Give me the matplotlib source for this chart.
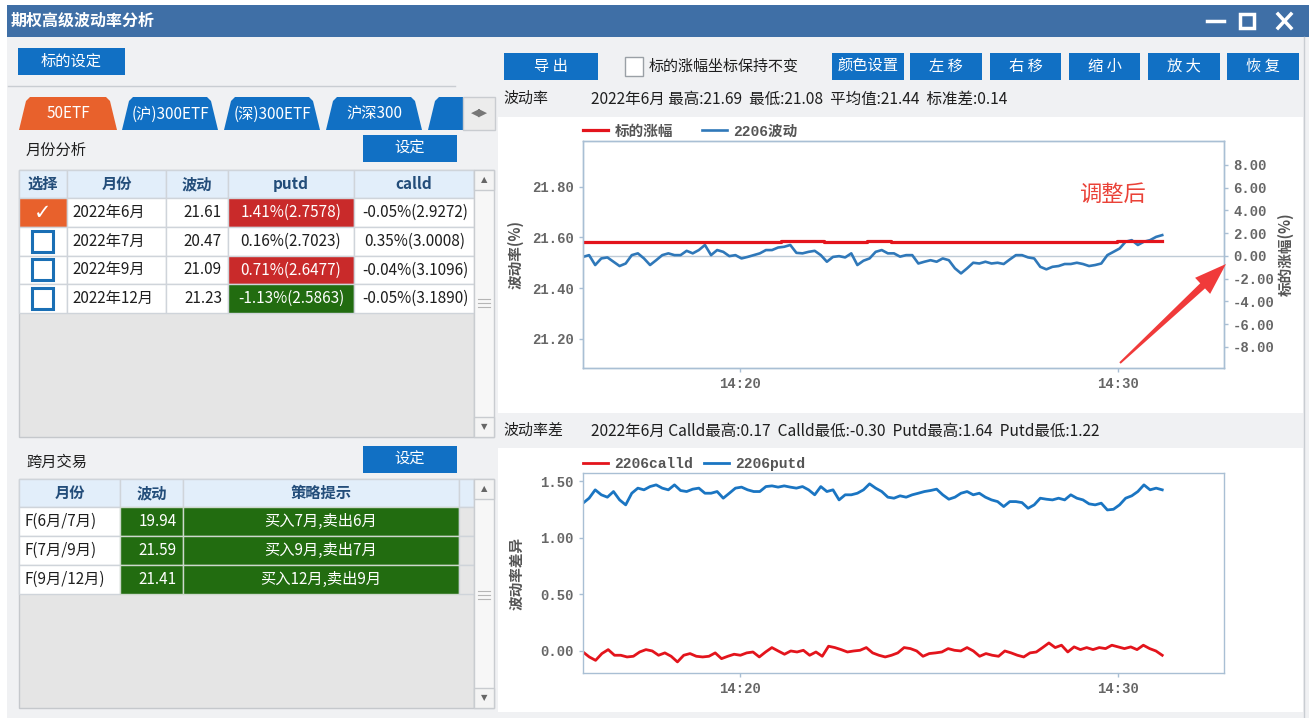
import matplotlib.pyplot as plt
from matplotlib.patches import Rectangle, Polygon
from matplotlib.ticker import FuncFormatter
import numpy as np

plt.rcParams['font.family'] = ['Noto Sans CJK SC', 'DejaVu Sans']

# ---------------- data ----------------
tab_names = ['50ETF', '(沪)300ETF', '(深)300ETF', '沪深300']

months = ['2022年6月', '2022年7月', '2022年9月', '2022年12月']
month_vol = [21.61, 20.47, 21.09, 21.23]
putd_pct = [1.41, 0.16, 0.71, -1.13]
putd_vega = [2.7578, 2.7023, 2.6477, 2.5863]
calld_pct = [-0.05, 0.35, -0.04, -0.05]
calld_vega = [2.9272, 3.0008, 3.1096, 3.1890]
selected = [True, False, False, False]

spreads = ['F(6月/7月)', 'F(7月/9月)', 'F(9月/12月)']
spread_vol = [19.94, 21.59, 21.41]
spread_tips = ['买入7月,卖出6月', '买入9月,卖出7月', '买入12月,卖出9月']

cur_month = '2022年6月'
vol_high, vol_low, vol_mean, vol_std = 21.69, 21.08, 21.44, 0.14
calld_high, calld_low, putd_high, putd_low = 0.17, -0.30, 1.64, 1.22

t_first, t_last = '14:15:51', '14:31:10'

# 2206 implied vol (left axis, %)
vol_2206 = [21.523, 21.530, 21.491, 21.517, 21.521, 21.504, 21.487, 21.497, 21.530, 21.537,
            21.517, 21.491, 21.510, 21.530, 21.537, 21.530, 21.530, 21.547, 21.537, 21.550,
            21.570, 21.530, 21.550, 21.543, 21.526, 21.530, 21.517, 21.523, 21.530, 21.537,
            21.550, 21.550, 21.560, 21.563, 21.570, 21.539, 21.537, 21.543, 21.547, 21.530,
            21.504, 21.523, 21.526, 21.521, 21.537, 21.491, 21.508, 21.517, 21.543, 21.550,
            21.537, 21.537, 21.524, 21.530, 21.530, 21.497, 21.504, 21.510, 21.504, 21.517,
            21.510, 21.478, 21.458, 21.478, 21.500, 21.497, 21.504, 21.497, 21.500, 21.495,
            21.513, 21.530, 21.530, 21.521, 21.517, 21.484, 21.474, 21.484, 21.487, 21.495,
            21.495, 21.500, 21.495, 21.487, 21.491, 21.497, 21.530, 21.543, 21.556, 21.583,
            21.589, 21.570, 21.583, 21.589, 21.602, 21.609]

# underlying change (right axis, %)
underlying_chg = [1.20, 1.20, 1.20, 1.20, 1.20, 1.20, 1.20, 1.20, 1.20, 1.20,
                  1.20, 1.20, 1.20, 1.20, 1.20, 1.20, 1.20, 1.20, 1.20, 1.20,
                  1.20, 1.20, 1.20, 1.20, 1.20, 1.20, 1.20, 1.20, 1.20, 1.20,
                  1.20, 1.20, 1.20, 1.32, 1.32, 1.32, 1.32, 1.32, 1.32, 1.32,
                  1.20, 1.20, 1.20, 1.20, 1.20, 1.20, 1.20, 1.32, 1.32, 1.32,
                  1.32, 1.20, 1.20, 1.20, 1.20, 1.20, 1.20, 1.20, 1.20, 1.20,
                  1.20, 1.20, 1.20, 1.20, 1.20, 1.20, 1.20, 1.26, 1.20, 1.26,
                  1.20, 1.26, 1.20, 1.25, 1.20, 1.26, 1.20, 1.20, 1.20, 1.20,
                  1.20, 1.20, 1.20, 1.20, 1.20, 1.20, 1.20, 1.20, 1.30, 1.30,
                  1.30, 1.32, 1.30, 1.30, 1.28, 1.30]

# 2206 putd / calld vol spread
putd_2206 = [1.308, 1.352, 1.426, 1.382, 1.361, 1.411, 1.337, 1.293, 1.396, 1.441,
             1.426, 1.455, 1.470, 1.441, 1.426, 1.470, 1.420, 1.411, 1.432, 1.441,
             1.396, 1.396, 1.411, 1.352, 1.396, 1.441, 1.450, 1.426, 1.411, 1.411,
             1.455, 1.461, 1.450, 1.461, 1.450, 1.441, 1.455, 1.426, 1.382, 1.455,
             1.411, 1.426, 1.337, 1.382, 1.382, 1.396, 1.426, 1.479, 1.441, 1.411,
             1.361, 1.352, 1.373, 1.361, 1.382, 1.396, 1.411, 1.420, 1.432, 1.382,
             1.343, 1.361, 1.396, 1.411, 1.382, 1.396, 1.361, 1.337, 1.322, 1.278,
             1.322, 1.322, 1.313, 1.263, 1.293, 1.352, 1.343, 1.337, 1.352, 1.337,
             1.382, 1.352, 1.337, 1.302, 1.293, 1.308, 1.248, 1.254, 1.293, 1.352,
             1.373, 1.411, 1.470, 1.426, 1.441, 1.426]

calld_2206 = [-0.009, -0.053, -0.083, -0.023, 0.012, -0.038, -0.038, -0.053, -0.047, -0.009,
              0.012, 0.000, -0.038, -0.017, -0.047, -0.097, -0.038, -0.023, -0.047, -0.053,
              -0.047, -0.017, -0.068, -0.047, -0.029, -0.038, -0.017, -0.009, -0.053, -0.009,
              0.030, 0.000, -0.029, 0.000, -0.009, 0.006, -0.038, -0.009, -0.047, 0.042,
              0.030, 0.012, -0.009, 0.000, 0.006, 0.030, -0.017, -0.038, -0.053, -0.038,
              -0.017, 0.030, 0.021, 0.000, -0.047, -0.023, -0.017, -0.009, 0.021, 0.006,
              0.000, 0.030, 0.000, -0.047, -0.023, -0.038, -0.047, 0.000, -0.017, -0.038,
              -0.053, -0.017, -0.009, 0.030, 0.071, 0.030, 0.051, -0.009, 0.036, 0.012,
              0.030, 0.012, 0.030, 0.021, 0.051, 0.036, 0.021, 0.036, 0.012, 0.051,
              0.021, 0.000, -0.038]

# ---------------- layout helpers ----------------
W, H = 1309, 718
BTN = '#1170c4'
TITLE = '#3f6fa6'
BG = '#f0f1f3'
GRID = '#cfd4da'
HEAD_BG = '#e2eefa'
HEAD_TXT = '#234d7a'
EMPTY = '#e5e5e5'
RED_CELL = '#c92a2a'
GREEN_CELL = '#226c10'
ORANGE = '#e8612c'
SPINE = '#a9bfd4'
TICKTXT = '#666666'
MONO = ['Liberation Mono', 'DejaVu Sans Mono']
FS = 11  # body text size

fig = plt.figure(figsize=(W / 100, H / 100), dpi=100, facecolor='white')
ui = fig.add_axes([0, 0, 1, 1], zorder=-5)
ui.set_xlim(0, W)
ui.set_ylim(H, 0)
ui.axis('off')


def box(x0, y0, x1, y1, fc, ec='none', lw=1):
    ui.add_patch(Rectangle((x0, y0), x1 - x0, y1 - y0, facecolor=fc, edgecolor=ec, linewidth=lw))


def txt(x, y, s, size=FS, color='#1e1e1e', ha='left', **kw):
    ui.text(x, y, s, fontsize=size, color=color, ha=ha, va='center', **kw)


def button(x0, y0, x1, y1, s):
    box(x0, y0, x1, y1, BTN)
    txt((x0 + x1) / 2, (y0 + y1) / 2, s, color='white', ha='center', size=11)


def scrollbar(x0, y0, x1, y1, grip_y):
    box(x0, y0, x1, y1, '#f7f7f7', ec='#c9ccd0')
    box(x0, y0, x1, y0 + 20, '#f4f4f4', ec='#c9ccd0')
    box(x0, y1 - 20, x1, y1, '#f4f4f4', ec='#c9ccd0')
    txt((x0 + x1) / 2, y0 + 10, '▲', size=6, color='#666', ha='center', family='DejaVu Sans')
    txt((x0 + x1) / 2, y1 - 10, '▼', size=6, color='#666', ha='center', family='DejaVu Sans')
    for dy in (-4, 0, 4):
        ui.plot([x0 + 4, x1 - 4], [grip_y + dy, grip_y + dy], color='#b5b5b5', lw=0.8)


def px_axes(x0, y0, x1, y1):
    return fig.add_axes([x0 / W, 1 - y1 / H, (x1 - x0) / W, (y1 - y0) / H])


# ---------------- window frame ----------------
box(7, 5, W, 37, TITLE)
txt(11, 21, '期权高级波动率分析', size=11.5, color='white', fontweight='bold')
ui.plot([1207, 1224], [21, 21], color='white', lw=2.5)
box(1240, 14, 1254, 28, 'none', ec='white', lw=2.5)
ui.plot([1278, 1291], [14, 28], color='white', lw=2.5)
ui.plot([1278, 1291], [28, 14], color='white', lw=2.5)
box(7, 37, W, H, BG)

# ---------------- left panel ----------------
button(18, 48, 125, 75, '标的设定')
ui.plot([8, 455], [86, 86], color='#c9cdd2', lw=1)

tab_x = [(19, 117), (122, 218), (224, 320), (326, 422)]
for k, ((a, b), name) in enumerate(zip(tab_x, tab_names)):
    poly = [(a, 130), (a + 7, 101), (a + 11, 97), (b - 11, 97), (b - 7, 101), (b, 130)]
    ui.add_patch(Polygon(poly, closed=True, fc=ORANGE if k == 0 else BTN, ec='none'))
    txt((a + b) / 2, 114, name, size=11, color='white', ha='center')
ui.add_patch(Polygon([(428, 130), (435, 101), (439, 97), (463, 97), (463, 130)],
                     closed=True, fc=BTN, ec='none'))
box(463, 97, 495, 130, '#ececec', ec='#c9ccd0')
txt(479, 113, '◀▶', size=8, color='#777', ha='center', family='DejaVu Sans')

txt(26, 150, '月份分析')
button(363, 135, 457, 162, '设定')

# month table
cols1 = [19, 67, 166, 228, 354, 474]
head1 = ['选择', '月份', '波动', 'putd', 'calld']
box(19, 170, 474, 437, EMPTY, ec='#c5c8cc')
for c, h in enumerate(head1):
    box(cols1[c], 170, cols1[c + 1], 198, HEAD_BG, ec=GRID)
    txt((cols1[c] + cols1[c + 1]) / 2, 184, h, color=HEAD_TXT, ha='center', fontweight='bold')
row_h = 28.75
for r in range(len(months)):
    y0 = 198 + r * row_h
    y1 = y0 + row_h
    yc = (y0 + y1) / 2
    pc = RED_CELL if putd_pct[r] > 0.5 else (GREEN_CELL if putd_pct[r] < -0.5 else 'white')
    fills = [ORANGE if selected[r] else 'white', 'white', 'white', pc, 'white']
    for c in range(5):
        box(cols1[c], y0, cols1[c + 1], y1, fills[c], ec=GRID)
    if selected[r]:
        txt(42.5, yc + 1, '✓', size=15, color='white', ha='center', family='DejaVu Sans',
            fontweight='bold')
    else:
        box(32, yc - 10.5, 53, yc + 10.5, 'white', ec='#1a6fb5', lw=2.2)
    txt(72, yc, months[r])
    txt(222, yc, f'{month_vol[r]:.2f}', ha='right')
    txt(291, yc, f'{putd_pct[r]:.2f}%({putd_vega[r]:.4f})', ha='center',
        color='white' if pc != 'white' else '#1e1e1e')
    txt(415, yc, f'{calld_pct[r]:.2f}%({calld_vega[r]:.4f})', ha='center')
scrollbar(474, 170, 494, 437, 303)

# spread table
txt(26, 462, '跨月交易')
button(363, 446, 457, 473, '设定')
cols2 = [19, 120, 183, 459, 474]
head2 = ['月份', '波动', '策略提示', '']
box(19, 479, 474, 708, EMPTY, ec='#c5c8cc')
for c, h in enumerate(head2):
    box(cols2[c], 479, cols2[c + 1], 507, HEAD_BG, ec=GRID)
    txt((cols2[c] + cols2[c + 1]) / 2, 493, h, color=HEAD_TXT, ha='center', fontweight='bold')
for r in range(len(spreads)):
    y0 = 507 + r * 29
    y1 = y0 + 29
    yc = (y0 + y1) / 2
    fills = ['white', GREEN_CELL, GREEN_CELL, '#e6e6e6']
    for c in range(4):
        box(cols2[c], y0, cols2[c + 1], y1, fills[c], ec='#cdd8cc' if c in (1, 2) else GRID)
    txt(24, yc, spreads[r])
    txt(177, yc, f'{spread_vol[r]:.2f}', ha='right', color='white')
    txt(321, yc, spread_tips[r], ha='center', color='white')
scrollbar(474, 479, 494, 708, 595)

# ---------------- right panel ----------------
box(498, 117, 1303, 413, 'white')
box(498, 448, 1303, 712, 'white')
ui.plot([1304, 1304], [37, H], color='#c9cdd2', lw=1)

button(504, 53, 598, 80, '导 出')
box(625, 57, 643, 76, 'white', ec='#9aa0a6')
txt(649, 67, '标的涨幅坐标保持不变', size=10.8)
for (a, b), s in zip([(832, 904), (910, 982), (990, 1061), (1069, 1140), (1148, 1220), (1227, 1299)],
                     ['颜色设置', '左 移', '右 移', '缩 小', '放 大', '恢 复']):
    button(a, 53, b, 80, s)

txt(503, 99, '波动率', size=10.8)
txt(591, 99, f'{cur_month} 最高:{vol_high:.2f}  最低:{vol_low:.2f}  '
             f'平均值:{vol_mean:.2f}  标准差:{vol_std:.2f}', size=11.2)
txt(503, 431, '波动率差', size=10.8)
txt(591, 431, f'{cur_month} Calld最高:{calld_high:.2f}  Calld最低:{calld_low:.2f}  '
              f'Putd最高:{putd_high:.2f}  Putd最低:{putd_low:.2f}', size=11.2)


# ---------------- charts ----------------
def mins(s):
    h, m, sec = (int(v) for v in s.split(':'))
    return (h - 14) * 60 + m + sec / 60


t0, t1 = mins(t_first), mins(t_last)
xlim = (t0, mins('14:32:48'))
xticks = [mins('14:20:00'), mins('14:30:00')]
tfmt = FuncFormatter(lambda v, p: f'{14 + int(v // 60)}:{int(round(v % 60)):02d}')


def style(ax):
    for sp in ax.spines.values():
        sp.set_color(SPINE)
        sp.set_linewidth(1)
    ax.tick_params(colors=SPINE, labelcolor=TICKTXT, length=3, width=1, labelsize=10)


def ticks_y(ax, vals):
    ax.set_yticks(vals, labels=[f'{v:.2f}' for v in vals], fontfamily=MONO, fontweight='bold')


def ticks_x(ax):
    ax.set_xlim(*xlim)
    ax.set_xticks(xticks)
    ax.xaxis.set_major_formatter(tfmt)
    for lab in ax.get_xticklabels():
        lab.set_fontfamily(MONO)
        lab.set_fontweight('bold')


leg_prop = {'family': ['Liberation Mono', 'Noto Sans CJK SC'], 'weight': 'bold', 'size': 10.5}

# upper chart: vol + underlying change
ax1 = px_axes(583, 141, 1224, 368)
ax1r = ax1.twinx()
l_ylim, r_ylim = (21.085, 21.98), (-9.85, 10.1)
zero_on_left = l_ylim[0] + (0 - r_ylim[0]) / (r_ylim[1] - r_ylim[0]) * (l_ylim[1] - l_ylim[0])
ax1.axhline(zero_on_left, color='#bfcbd6', lw=1, zorder=1)
tv = np.linspace(t0, t1, len(vol_2206))
l_blue, = ax1.plot(tv, vol_2206, color='#2f78b9', lw=1.9, zorder=3)
tu = np.linspace(t0, t1, len(underlying_chg))
l_red, = ax1r.plot(tu, underlying_chg, color='#e3141c', lw=2.3, drawstyle='steps-mid')
ax1.set_ylim(*l_ylim)
ax1r.set_ylim(*r_ylim)
style(ax1)
style(ax1r)
ticks_y(ax1, [21.2, 21.4, 21.6, 21.8])
ticks_y(ax1r, [-8, -6, -4, -2, 0, 2, 4, 6, 8])
ticks_x(ax1)
ax1.set_ylabel('波动率(%)', fontsize=10.5, fontweight='bold', color='#555')
ax1.yaxis.set_label_coords(-0.092, 0.5)
ax1r.set_ylabel('标的涨幅(%)', fontsize=10.5, fontweight='bold', color='#555')
ax1r.yaxis.set_label_coords(1.083, 0.5)
ax1.legend([l_red, l_blue], ['标的涨幅', '2206波动'], loc='lower left',
           bbox_to_anchor=(-0.009, 0.985), borderaxespad=0, ncol=2, frameon=False,
           handlelength=1.7, handletextpad=0.45, columnspacing=2.0, prop=leg_prop,
           labelcolor='#555')

# lower chart: putd / calld
ax2 = px_axes(583, 473, 1224, 673)
tp = np.linspace(t0, t1, len(putd_2206))
tc = np.linspace(t0, t1, len(calld_2206))
l_c, = ax2.plot(tc, calld_2206, color='#e3141c', lw=2.0)
l_p, = ax2.plot(tp, putd_2206, color='#1a75c2', lw=2.0)
ax2.set_ylim(-0.195, 1.575)
style(ax2)
ticks_y(ax2, [0, 0.5, 1.0, 1.5])
ticks_x(ax2)
ax2.set_ylabel('波动率差异', fontsize=10.5, fontweight='bold', color='#555')
ax2.yaxis.set_label_coords(-0.092, 0.5)
ax2.legend([l_c, l_p], ['2206calld', '2206putd'], loc='lower left',
           bbox_to_anchor=(-0.009, 0.982), borderaxespad=0, ncol=2, frameon=False,
           handlelength=1.7, handletextpad=0.4, columnspacing=0.8, prop=leg_prop,
           labelcolor='#555')

# ---------------- annotation overlay ----------------
ov = fig.add_axes([0, 0, 1, 1], zorder=10)
ov.set_xlim(0, W)
ov.set_ylim(H, 0)
ov.axis('off')
ov.patch.set_visible(False)
ov.text(1112, 194, '调整后', color='#ea4238', fontsize=16, ha='center', va='center')
tail, tip = np.array([1120.0, 363.0]), np.array([1226.0, 264.0])
d = (tip - tail) / np.linalg.norm(tip - tail)
n = np.array([-d[1], d[0]])
neck = tip - 32 * d
ov.add_patch(Polygon([tail + 1 * n, neck + 3.5 * n, neck + 11 * n, tip,
                      neck - 11 * n, neck - 3.5 * n, tail - 1 * n],
                     closed=True, fc='#f03a3a', ec='none'))

fig.savefig('out.png', dpi=100, facecolor='white')
